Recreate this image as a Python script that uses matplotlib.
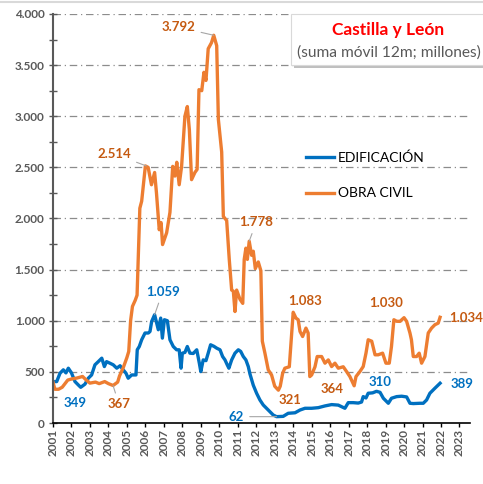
import matplotlib
matplotlib.use('Agg')
import matplotlib.pyplot as plt
from matplotlib.patches import Rectangle
from matplotlib.lines import Line2D

plt.rcParams['font.family'] = ['Lato', 'DejaVu Sans']

# Obra civil (suma movil 12m, millones)
obra_years = [2001.0, 2001.1, 2001.3, 2001.5, 2001.8, 2002.0, 2002.3, 2002.6, 2002.8,
              2003.0, 2003.3, 2003.5, 2003.8, 2004.0, 2004.25, 2004.5, 2004.6, 2004.8,
              2005.0, 2005.1, 2005.2, 2005.3, 2005.45, 2005.55, 2005.7, 2005.8,
              2006.0, 2006.15, 2006.33, 2006.5, 2006.6, 2006.75, 2006.85, 2006.93,
              2007.15, 2007.33, 2007.48, 2007.6, 2007.7, 2007.83, 2007.96,
              2008.14, 2008.27, 2008.38, 2008.5, 2008.68, 2008.8, 2008.9,
              2009.05, 2009.17, 2009.28, 2009.4, 2009.58, 2009.7, 2009.86, 2009.95,
              2010.13, 2010.22, 2010.4, 2010.54, 2010.67, 2010.76, 2010.85, 2010.94,
              2011.12, 2011.27, 2011.35, 2011.44, 2011.52, 2011.62, 2011.75, 2011.84, 2011.95,
              2012.11, 2012.25, 2012.33, 2012.47, 2012.65, 2012.83,
              2013.0, 2013.2, 2013.3, 2013.43, 2013.55, 2013.79, 2013.88,
              2014.0, 2014.15, 2014.27, 2014.37, 2014.51, 2014.69, 2014.81, 2014.9,
              2015.0, 2015.18, 2015.3, 2015.54, 2015.72, 2015.9,
              2016.08, 2016.26, 2016.44, 2016.71, 2016.89,
              2017.07, 2017.3, 2017.4, 2017.61, 2017.79, 2017.94,
              2018.06, 2018.25, 2018.43, 2018.6, 2018.84,
              2019.02, 2019.2, 2019.32, 2019.45, 2019.6, 2019.78,
              2020.0, 2020.14, 2020.32, 2020.4, 2020.5, 2020.68, 2020.82, 2020.95,
              2021.13, 2021.31, 2021.49, 2021.67, 2021.85, 2021.95]
obra_values = [400, 330, 330, 350, 420, 430, 440, 455, 420,
               390, 400, 385, 405, 385, 367, 400, 460, 540,
               640, 700, 1000, 1140, 1200, 1250, 2100, 2170,
               2514, 2500, 2330, 2450, 2250, 1890, 1960, 1745,
               1860, 2060, 2510, 2415, 2550, 2330, 2510,
               3000, 3095, 2870, 2380, 2450, 2480, 3260,
               3250, 3430, 3350, 3660, 3720, 3792, 3690, 2970,
               2650, 2020, 1980, 1600, 1300, 1290, 1090, 1300,
               1210, 1170, 1600, 1710, 1600, 1778, 1640, 1680, 1510,
               1575, 1490, 800, 683, 520, 470,
               360, 321, 360, 487, 536, 550, 780,
               1083, 1026, 1010, 895, 846, 928, 880, 454,
               470, 550, 650, 650, 585, 617,
               552, 585, 536, 550, 503,
               454, 364, 454, 503, 552, 683,
               814, 800, 667, 667, 683,
               585, 585, 748, 1010, 995, 994,
               1030, 994, 880, 814, 650, 650, 683, 585,
               650, 880, 928, 961, 977, 1034]

# Edificacion
edif_years = [2001.0, 2001.2, 2001.38, 2001.56, 2001.7, 2001.83, 2002.0, 2002.19, 2002.37,
              2002.5, 2002.73, 2002.91, 2003.09, 2003.27, 2003.45, 2003.64, 2003.78, 2003.9,
              2004.08, 2004.26, 2004.45, 2004.63, 2004.8, 2004.95, 2005.07, 2005.26, 2005.49,
              2005.56, 2005.67, 2005.8, 2005.98, 2006.16, 2006.25, 2006.34, 2006.5, 2006.7,
              2006.83, 2006.92, 2007.03, 2007.19, 2007.33, 2007.51, 2007.69, 2007.83, 2007.93,
              2008.0, 2008.14, 2008.27, 2008.41, 2008.59, 2008.78, 2008.92, 2009.0, 2009.13,
              2009.28, 2009.4, 2009.53, 2009.71, 2009.86, 2010.04, 2010.18, 2010.31, 2010.43,
              2010.52, 2010.67, 2010.85, 2011.03, 2011.16, 2011.3, 2011.44, 2011.57, 2011.66,
              2011.84, 2012.02, 2012.2, 2012.38, 2012.65, 2012.92, 2013.1, 2013.46, 2013.73,
              2014.1, 2014.37, 2014.64, 2015.0, 2015.36, 2015.72, 2016.08, 2016.44, 2016.8,
              2016.98, 2017.25, 2017.52, 2017.7, 2017.79, 2017.94, 2018.06, 2018.3, 2018.51,
              2018.7, 2018.88, 2019.15, 2019.32, 2019.6, 2019.87, 2020.14, 2020.32, 2020.5,
              2020.86, 2021.04, 2021.22, 2021.4, 2021.67, 2021.95]
edif_values = [405, 405, 487, 520, 490, 536, 490, 405, 372,
               349, 380, 438, 470, 569, 600, 634, 552, 600,
               585, 569, 536, 560, 520, 487, 438, 470, 470,
               716, 748, 814, 880, 880, 895, 993, 1059, 912,
               1026, 830, 1010, 1000, 814, 748, 716, 716, 536,
               683, 690, 748, 683, 680, 716, 585, 503, 617,
               610, 683, 765, 750, 732, 716, 650, 617, 569,
               536, 617, 683, 716, 700, 650, 617, 552, 480,
               370, 291, 225, 176, 127, 78, 62, 65, 95,
               100, 127, 144, 144, 150, 167, 180, 175, 144,
               199, 199, 195, 205, 258, 245, 291, 295, 310,
               300, 242, 193, 242, 258, 262, 255, 193, 190,
               193, 193, 225, 291, 340, 389]

year_ticks = list(range(2001, 2024))
y_ticks = [0, 500, 1000, 1500, 2000, 2500, 3000, 3500, 4000]
y_labels = ['0', '500', '1.000', '1.500', '2.000', '2.500', '3.000', '3.500', '4.000']

# annotations: (year, value, text, series, dx px, dy px, leader)
notes = [
    (2009.7, 3792, '3.792', 'obra', -35, 8, True),
    (2006.05, 2514, '2.514', 'obra', -32, 12, True),
    (2011.62, 1778, '1.778', 'obra', 7, 19, True),
    (2014.0, 1083, '1.083', 'obra', 12, 11, False),
    (2020.0, 1030, '1.030', 'obra', -18, 15, False),
    (2021.95, 1034, '1.034', 'obra', 26, -1, False),
    (2004.25, 367, '367', 'obra', 6, -19, True),
    (2013.2, 321, '321', 'obra', 12, -10, False),
    (2017.3, 364, '364', 'obra', -22, -3, False),
    (2006.5, 1059, '1.059', 'edif', 8, 23, True),
    (2002.5, 349, '349', 'edif', -6, -16, False),
    (2013.1, 62, '62', 'edif', -40, 0, True),
    (2018.6, 310, '310', 'edif', 2, 9, False),
    (2021.95, 389, '389', 'edif', 22, -1, False),
]

blue = '#0070C0'
orange = '#ED7D31'
orange_txt = '#C55A11'
gray_txt = '#595959'

W, H = 483, 484
fig = plt.figure(figsize=(W / 100, H / 100), dpi=100)
ax = fig.add_axes([53 / W, 1 - 423 / H, (470 - 53) / W, (423 - 14) / H])

ax.plot(edif_years, edif_values, color=blue, lw=2.4, label='EDIFICACIÓN', solid_joinstyle='round')
ax.plot(obra_years, obra_values, color=orange, lw=2.4, label='OBRA CIVIL', solid_joinstyle='round')

ax.set_xlim(2001, 2023.57)
ax.set_ylim(0, 4000)
ax.set_yticks(y_ticks)
ax.set_yticklabels(y_labels)
ax.set_yticks(range(250, 4000, 500), minor=True)
ax.set_xticks(year_ticks)
ax.set_xticklabels([str(y) for y in year_ticks], rotation=90)

for lab in ax.get_yticklabels() + ax.get_xticklabels():
    lab.set_fontweight('bold')
    lab.set_color(gray_txt)
    lab.set_fontsize(8.5)

ax.tick_params(axis='y', which='both', direction='inout', length=6, width=1, color=gray_txt, pad=3)
ax.tick_params(axis='x', direction='out', length=3, width=1, color='black', pad=1)

for y in y_ticks[1:]:
    ax.axhline(y, color='#8c8c8c', lw=0.9, ls=(0, (6, 3, 1, 3)), zorder=0)

ax.spines['top'].set_visible(False)
ax.spines['right'].set_visible(False)
ax.spines['left'].set_color(gray_txt)
ax.spines['left'].set_linewidth(1.5)
ax.spines['bottom'].set_color('black')
ax.spines['bottom'].set_linewidth(1.2)

for yr, val, txt, ser, dx, dy, leader in notes:
    col = orange_txt if ser == 'obra' else blue
    arrow = dict(arrowstyle='-', color='#a6a6a6', lw=0.8, shrinkA=2, shrinkB=0) if leader else None
    ax.annotate(txt, xy=(yr, val), xytext=(dx * 0.72, dy * 0.72), textcoords='offset points',
                ha='center', va='center', fontsize=9.5, fontweight='bold', color=col,
                arrowprops=arrow)

leg = ax.legend(loc='upper left', bbox_to_anchor=(306 / W, 1 - 151 / H), bbox_transform=fig.transFigure,
                frameon=False, fontsize=10, handlelength=2.0, handletextpad=0.3,
                labelspacing=1.72, borderpad=0, borderaxespad=0)
for t in leg.get_texts():
    t.set_color('black')

# title box with shadow
fig.patches.append(Rectangle((294 / W, 1 - 68 / H), 200 / W, 53 / H, transform=fig.transFigure,
                             facecolor='#bfbfbf', edgecolor='none', zorder=5))
fig.patches.append(Rectangle((291 / W, 1 - 65 / H), 200 / W, 51 / H, transform=fig.transFigure,
                             facecolor='white', edgecolor='#d9d9d9', lw=0.8, zorder=6))
fig.text(388 / W, 1 - 30 / H, 'Castilla y León', color='#FF0000', fontsize=12.5,
         fontweight='bold', ha='center', va='center', zorder=7)
fig.text(389 / W, 1 - 53 / H, '(suma móvil 12m; millones)', color=gray_txt, fontsize=11.2,
         ha='center', va='center', zorder=7)

fig.lines.append(Line2D([0, 1], [1 - 2 / H, 1 - 2 / H], transform=fig.transFigure, color='#d9d9d9', lw=1.5))

fig.savefig('out.png', dpi=100)
